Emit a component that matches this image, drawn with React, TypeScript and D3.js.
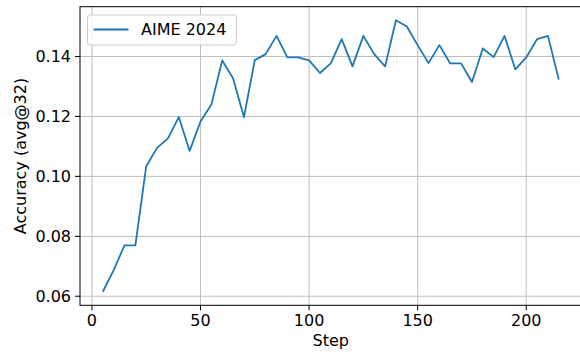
import React from "react";
import * as d3 from "d3";

// Evaluation every 5 training steps
const steps: number[] = [
  5, 10, 15, 20, 25, 30, 35, 40, 45, 50, 55, 60, 65, 70, 75, 80, 85, 90, 95, 100,
  105, 110, 115, 120, 125, 130, 135, 140, 145, 150, 155, 160, 165, 170, 175, 180,
  185, 190, 195, 200, 205, 210, 215,
];

// AIME 2024 accuracy (avg@32)
const aime2024: number[] = [
  0.0615, 0.0687, 0.0770, 0.0770, 0.1034, 0.1095, 0.1127, 0.1198, 0.1085, 0.1183,
  0.1240, 0.1387, 0.1327, 0.1198, 0.1388, 0.1408, 0.1469, 0.1397, 0.1397, 0.1387,
  0.1345, 0.1377, 0.1458, 0.1367, 0.1469, 0.1408, 0.1367, 0.1521, 0.1500, 0.1438,
  0.1378, 0.1438, 0.1377, 0.1377, 0.1315, 0.1427, 0.1398, 0.1469, 0.1357, 0.1397,
  0.1458, 0.1469, 0.1323,
];

const xTicks: number[] = [0, 50, 100, 150, 200];
const yTicks: number[] = [0.06, 0.08, 0.1, 0.12, 0.14];
const seriesName = "AIME 2024";
const xLabel = "Step";
const yLabel = "Accuracy (avg@32)";

const W = 580;
const H = 354;
const plot = { left: 80, right: 581.6, top: 6.7, bottom: 305.3 };
const FONT = "'DejaVu Sans', sans-serif";
const LINE_COLOR = "#1f77b4";

function padded(lo: number, hi: number): [number, number] {
  const m = (hi - lo) * 0.05;
  return [lo - m, hi + m];
}

export default function App() {
  const x = d3
    .scaleLinear()
    .domain(padded(d3.min(steps)!, d3.max(steps)!))
    .range([plot.left, plot.right]);
  const y = d3
    .scaleLinear()
    .domain(padded(d3.min(aime2024)!, d3.max(aime2024)!))
    .range([plot.bottom, plot.top]);

  const pts = steps.map((s, i) => [s, aime2024[i]] as [number, number]);
  const path = d3
    .line<[number, number]>()
    .x((d) => x(d[0]))
    .y((d) => y(d[1]))(pts)!;

  const fmt = d3.format(".2f");

  return (
    <svg
      width={W}
      height={H}
      style={{ position: "absolute", left: 0, top: 0, background: "#fff" }}
      fontFamily={FONT}
    >
      {/* grid */}
      <g stroke="#b0b0b0" strokeWidth={1} opacity={0.8}>
        {xTicks.map((t) => (
          <line key={`gx${t}`} x1={x(t)} x2={x(t)} y1={plot.top} y2={plot.bottom} />
        ))}
        {yTicks.map((t) => (
          <line key={`gy${t}`} x1={plot.left} x2={plot.right} y1={y(t)} y2={y(t)} />
        ))}
      </g>

      {/* series */}
      <path d={path} fill="none" stroke={LINE_COLOR} strokeWidth={1.8} strokeLinejoin="round" />

      {/* spines */}
      <rect
        x={plot.left}
        y={plot.top}
        width={plot.right - plot.left}
        height={plot.bottom - plot.top}
        fill="none"
        stroke="#000"
        strokeWidth={1}
      />

      {/* x axis */}
      {xTicks.map((t) => (
        <g key={`xt${t}`}>
          <line x1={x(t)} x2={x(t)} y1={plot.bottom} y2={plot.bottom + 5} stroke="#000" strokeWidth={1} />
          <text x={x(t)} y={plot.bottom + 21} textAnchor="middle" fontSize={16} fill="#000">
            {t}
          </text>
        </g>
      ))}
      <text x={(plot.left + plot.right) / 2} y={345.5} textAnchor="middle" fontSize={16} fill="#000">
        {xLabel}
      </text>

      {/* y axis */}
      {yTicks.map((t) => (
        <g key={`yt${t}`}>
          <line x1={plot.left - 5} x2={plot.left} y1={y(t)} y2={y(t)} stroke="#000" strokeWidth={1} />
          <text x={plot.left - 9} y={y(t)} dy="0.36em" textAnchor="end" fontSize={16} fill="#000">
            {fmt(t)}
          </text>
        </g>
      ))}
      <text
        transform={`translate(25.5,${(plot.top + plot.bottom) / 2}) rotate(-90)`}
        textAnchor="middle"
        fontSize={16}
        fill="#000"
      >
        {yLabel}
      </text>

      {/* legend */}
      <g>
        <rect x={87.5} y={15} width={149} height={30} rx={3} fill="#fff" fillOpacity={0.8} stroke="#cccccc" strokeWidth={1} />
        <line x1={93.5} x2={128.5} y1={29.5} y2={29.5} stroke={LINE_COLOR} strokeWidth={1.8} />
        <text x={141} y={29.5} dy="0.36em" fontSize={16} fill="#000">
          {seriesName}
        </text>
      </g>
    </svg>
  );
}
